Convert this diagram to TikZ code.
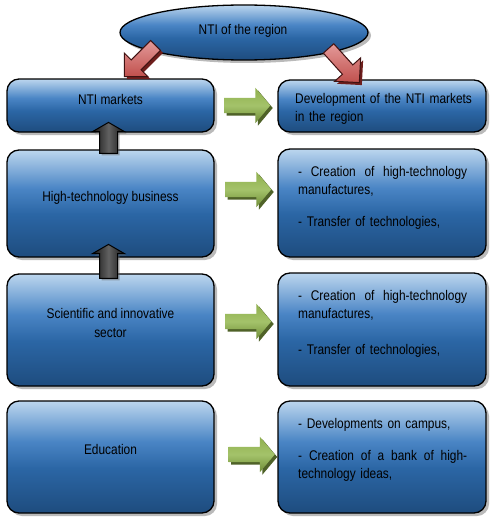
\documentclass[tikz,border=0pt]{standalone}
\usepackage{fontspec}
\setmainfont{Liberation Sans}[FakeStretch=0.85]
\usetikzlibrary{shapes.geometric,shapes.arrows,shadows}
\definecolor{btop}{HTML}{BCD6EE}
\definecolor{bmid}{HTML}{4A85C5}
\definecolor{bmid2}{HTML}{2B66A5}
\definecolor{bbot}{HTML}{1E4C7E}
\definecolor{gtop}{HTML}{8FAF4E}
\definecolor{gmid}{HTML}{A4C36A}
\definecolor{gbot}{HTML}{6E8C37}
\definecolor{gshadow}{HTML}{4F6228}
\definecolor{rtop}{HTML}{E49A99}
\definecolor{rbot}{HTML}{C0504D}
\definecolor{rline}{HTML}{3F1212}
\definecolor{rshadow}{HTML}{6E1E1C}
\pgfdeclareverticalshading{boxshade}{100bp}{color(0bp)=(bbot); color(25bp)=(bbot); color(45bp)=(bmid2); color(57bp)=(bmid); color(75bp)=(btop); color(100bp)=(btop)}
\begin{document}
\begin{tikzpicture}[x=1pt,y=-1pt,
  box/.style={draw=black, line width=1.3pt, rounded corners=12pt, shading=boxshade, inner sep=0pt,
    drop shadow={shadow xshift=3pt, shadow yshift=-3pt, opacity=0.45, fill=black!60}},
  oval/.style={ellipse, draw=black, line width=1.3pt, shading=boxshade, inner sep=0pt,
    drop shadow={shadow xshift=3pt, shadow yshift=-3pt, opacity=0.45, fill=black!60}},
  lbl/.style={font=\fontsize{14}{19}\selectfont, inner sep=0pt, text=black},
  rtext/.style={font=\fontsize{14}{18}\selectfont, inner sep=0pt, anchor=north west, text width=169pt},
  garrow/.style={single arrow, minimum height=46pt, inner xsep=0pt, inner ysep=7.5pt, single arrow head extend=10pt,
    single arrow tip angle=100, draw=none, top color=gtop, bottom color=gbot, middle color=gmid,
    drop shadow={shadow xshift=2.5pt, shadow yshift=-2.5pt, opacity=1, fill=gshadow}},
  rarrow/.style={single arrow, single arrow tip angle=90, inner xsep=0pt, inner ysep=6.5pt, draw=rline, line width=1pt,
    top color=rtop, bottom color=rbot,
    drop shadow={shadow xshift=2.5pt, shadow yshift=-2.5pt, opacity=1, fill=rshadow}},
  karrow/.style={single arrow, single arrow tip angle=120, inner xsep=0pt, inner ysep=8.5pt, draw=black, line width=1pt,
    single arrow head extend=7pt,
    left color=black!92, right color=black!92, middle color=black!62,
    drop shadow={shadow xshift=2pt, shadow yshift=-2pt, opacity=0.5, fill=black!60}}
]
\fill[white] (0,0) rectangle (495,519);
\useasboundingbox (0,0) rectangle (495,519);

% ellipse
\node[oval, minimum width=248pt, minimum height=55pt] (nti) at (244,32.5) {};

% boxes
\node[box, minimum width=207pt, minimum height=53pt] (L1) at (110.5,105.5) {};
\node[box, minimum width=208pt, minimum height=52pt] (R1) at (382,106) {};
\node[box, minimum width=207pt, minimum height=107pt] (L2) at (110.5,203.5) {};
\node[box, minimum width=208pt, minimum height=108pt] (R2) at (382,203) {};
\node[box, minimum width=207pt, minimum height=112pt] (L3) at (110.5,330) {};
\node[box, minimum width=208pt, minimum height=113pt] (R3) at (382,329.5) {};
\node[box, minimum width=207pt, minimum height=112pt] (L4) at (110.5,457) {};
\node[box, minimum width=208pt, minimum height=112pt] (R4) at (382,457) {};

% green arrows
\node[garrow] (g1) at (244,105.5) {};
\node[garrow] (g2) at (245,189.5) {};
\node[garrow] (g3) at (245,321.5) {};
\node[garrow] (g4) at (248.5,454.5) {};

% black arrows
\node[karrow, minimum height=31pt, rotate=90] (k1) at (108.5,140.5) {};
\node[karrow, minimum height=34pt, rotate=90] (k2) at (108.5,264) {};

% red arrows
\node[rarrow, minimum height=44pt, single arrow head extend=9.5pt, rotate=225] (ra) at (142.5,58.5) {};
\node[rarrow, minimum height=46pt, single arrow head extend=10.5pt, rotate=-48] (rb) at (341.6,62.9) {};

% labels
\node[lbl, anchor=base] (tnti) at (243,35) {NTI of the region};
\node[lbl, anchor=base] (t1) at (110.5,104) {NTI markets};
\node[lbl, anchor=base] (t2) at (110.5,201) {High-technology business};
\node[lbl, align=center] (t3) at (110.5,322.5) {Scientific and innovative\\sector};
\node[lbl, anchor=base] (t4) at (110.5,454) {Education};

\node[rtext, text width=190pt, align=left] (r1t) at (295,93.6) {Development of the NTI markets\\in the region};
\node[rtext] (r2t) at (298,166.6) {\hbox to\hsize{-\hfill Creation\hfill of\hfill high-technology}\par manufactures,\par\vskip14pt - Transfer of technologies,};
\node[rtext] (r3t) at (298,290.6) {\hbox to\hsize{-\hfill Creation\hfill of\hfill high-technology}\par manufactures,\par\vskip18pt - Transfer of technologies,};
\node[rtext] (r4t) at (298,417.9) {- Developments on campus,\par\vskip14.7pt\hbox to\hsize{-\hfill Creation\hfill of\hfill a\hfill bank\hfill of\hfill high-}\par technology ideas,};
\end{tikzpicture}
\end{document}
